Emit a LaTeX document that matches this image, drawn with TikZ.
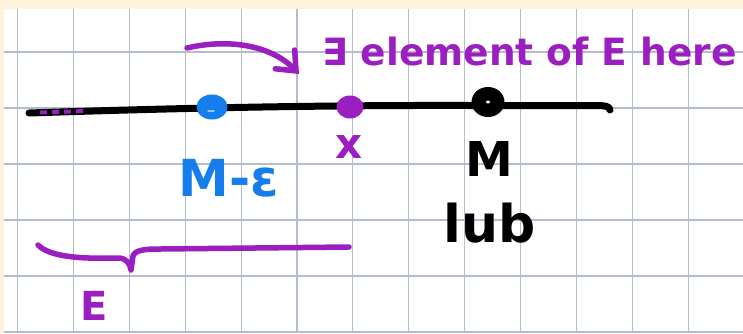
\documentclass[tikz,border=0pt]{standalone}
\usepackage{fontspec}
\setmainfont{DejaVu Sans}
\usetikzlibrary{arrows.meta,shapes.geometric}
\definecolor{hpurple}{RGB}{155,30,192}
\definecolor{hblue}{RGB}{22,126,236}
\definecolor{paper}{RGB}{255,242,219}
\definecolor{gridc}{RGB}{180,188,206}
\tikzset{
  gridline/.style={gridc, line width=1.1pt},
  marker/.style={line width=5.5pt, line cap=round, line join=round},
  numline/.style={marker, black, line width=7pt},
  dotmark/.style={ellipse, inner sep=0pt, outer sep=0pt, draw=none},
  hand/.style={inner sep=0pt, font=\bfseries},
}
\begin{document}
\begin{tikzpicture}[x=1pt,y=-1pt]
\useasboundingbox (0,0) rectangle (743,333);
\fill[white] (0,0) rectangle (743,333);
\fill[paper] (0,0) rectangle (743,9);
\fill[paper] (0,0) rectangle (4,333);
% grid
\foreach \i in {0,...,12} \draw[gridline] ({17.5+55.9*\i},9) -- ({17.5+55.9*\i},333);
\foreach \j in {0,...,5} \draw[gridline] (4,{52+56*\j}) -- (743,{52+56*\j});

% number line
\coordinate (lineL) at (29,113);
\coordinate (lineR) at (610,110);
\draw[numline] (lineL) .. controls (150,109) and (300,105) .. (470,105.5) -- (596,105.5) .. controls (604,105.5) and (610,106) .. (lineR);
\draw[hpurple, line width=4pt, dash pattern=on 7pt off 5pt] (40,112.5) -- (86,111);

% dots
\node[dotmark, fill=hblue, minimum width=31pt, minimum height=25pt] (mdot) at (212,107) {};
\draw[hblue!45!white, line width=1.5pt, line cap=round] (208,111) -- (214,111);
\node[dotmark, fill=hpurple, minimum width=27pt, minimum height=23pt] (xdot) at (350,107) {};
\node[dotmark, fill=black, minimum width=33pt, minimum height=30pt] (Mdot) at (488,102) {};
\node[dotmark, fill=white, minimum width=4pt, minimum height=3pt] (Mspot) at (488,102) {};

% labels
\node[hand, hpurple, anchor=base west, font=\bfseries\fontsize{37.5}{40}\selectfont] (exists) at (322,65) {∃ element of E here};
\node[hand, hpurple, anchor=base, font=\bfseries\fontsize{42}{44}\selectfont] (xlab) at (349,158) {x};
\node[hand, hblue, anchor=base, font=\bfseries\fontsize{51}{54}\selectfont] (melab) at (229,196) {M-ε};
\node[hand, black, anchor=base, font=\bfseries\fontsize{48}{50}\selectfont] (Mlab) at (489,176) {M};
\node[hand, black, anchor=base, font=\bfseries\fontsize{52}{54}\selectfont] (lub) at (490,242) {lub};
\node[hand, hpurple, anchor=base, font=\bfseries\fontsize{40}{42}\selectfont] (Elab) at (94,320) {E};

% curved arrow
\coordinate (arrS) at (187,48);
\coordinate (arrE) at (299,74);
\draw[marker, hpurple, -{Straight Barb[length=16pt, width=27pt, line cap=round]}] (arrS) .. controls (230,38) and (272,46) .. (arrE);

% brace
\coordinate (brL) at (38,245);
\coordinate (brR) at (349,247);
\draw[marker, hpurple] (brL) .. controls (50,257) and (80,259) .. (118,258) .. controls (127,258) and (130,264) .. (131,270) -- (133,256) .. controls (135,250) and (145,249) .. (160,249) -- (brR);
\end{tikzpicture}
\end{document}
